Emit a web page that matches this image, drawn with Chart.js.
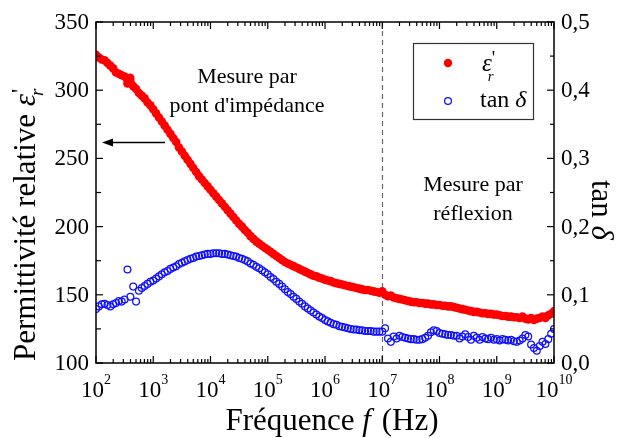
<!DOCTYPE html>
<html>
<head>
<meta charset="utf-8">
<script src="https://cdn.jsdelivr.net/npm/chart.js@4/dist/chart.umd.min.js"></script>
<style>
  html, body { margin: 0; padding: 0; background: #ffffff; }
  canvas { display: block; }
</style>
</head>
<body>
<canvas id="c" width="620" height="438"></canvas>
<script>
// Frequency sweep, log10(f / Hz)
const logFreq = [
  2.00, 2.05, 2.10, 2.15, 2.20, 2.25, 2.30, 2.35, 2.40, 2.45, 2.50, 2.55, 2.60, 2.65, 2.70, 2.75, 2.80, 2.85, 2.90, 2.95,
  3.00, 3.05, 3.10, 3.15, 3.20, 3.25, 3.30, 3.35, 3.40, 3.45, 3.50, 3.55, 3.60, 3.65, 3.70, 3.75, 3.80, 3.85, 3.90, 3.95,
  4.00, 4.05, 4.10, 4.15, 4.20, 4.25, 4.30, 4.35, 4.40, 4.45, 4.50, 4.55, 4.60, 4.65, 4.70, 4.75, 4.80, 4.85, 4.90, 4.95,
  5.00, 5.05, 5.10, 5.15, 5.20, 5.25, 5.30, 5.35, 5.40, 5.45, 5.50, 5.55, 5.60, 5.65, 5.70, 5.75, 5.80, 5.85, 5.90, 5.95,
  6.00, 6.05, 6.10, 6.15, 6.20, 6.25, 6.30, 6.35, 6.40, 6.45, 6.50, 6.55, 6.60, 6.65, 6.70, 6.75, 6.80, 6.85, 6.90, 6.95,
  7.00, 7.05, 7.10, 7.15, 7.20, 7.25, 7.30, 7.35, 7.40, 7.45, 7.50, 7.55, 7.60, 7.65, 7.70, 7.75, 7.80, 7.85, 7.90, 7.95,
  8.00, 8.05, 8.10, 8.15, 8.20, 8.25, 8.30, 8.35, 8.40, 8.45, 8.50, 8.55, 8.60, 8.65, 8.70, 8.75, 8.80, 8.85, 8.90, 8.95,
  9.00, 9.05, 9.10, 9.15, 9.20, 9.25, 9.30, 9.35, 9.40, 9.45, 9.50, 9.55, 9.60, 9.65, 9.70, 9.75, 9.80, 9.85, 9.90, 9.95,
  10.00
];

// Relative permittivity (real part)
const epsReal = [
  326, 324, 322.5, 322, 320, 318, 316, 313, 312, 311, 310, 305, 309, 303, 301, 298, 296, 294, 291, 289,
  286, 283, 280, 277, 274, 271, 268, 265, 262, 258, 255, 252, 249, 246, 243, 240, 237, 234.5, 232, 229.5,
  227, 224.5, 222, 219.5, 217, 214.5, 212, 209.5, 207, 204.5, 202, 200, 197.5, 195.5, 193, 191, 189, 187.5, 186, 184.5,
  183, 181.5, 180, 178.5, 177, 175.5, 174, 173, 172, 171, 170, 169, 168, 167, 166, 165, 164, 163.5, 162.5, 162,
  161, 160.5, 160, 159, 158.5, 158, 157.5, 157, 156.5, 156, 155.5, 155, 154.5, 154, 153.5, 153.5, 153, 152.5, 152, 151.5,
  152.5, 150, 149, 149.5, 148, 147.5, 147, 146.5, 146, 145.5, 145, 144.5, 144.5, 144, 144, 143.5, 143.5, 143, 143, 142.5,
  142.5, 142, 142, 141.5, 141.5, 141, 140.5, 140, 139.5, 139, 138.5, 138, 137.5, 137.5, 137, 136.5, 136.5, 136, 136, 135.5,
  135.5, 135, 134.5, 134.5, 134, 134, 133.5, 133.5, 133, 134, 132.5, 132, 133, 131.5, 132.5, 133, 134, 133, 135, 136,
  138
];

// Loss tangent
const tanDelta = [
  0.079, 0.083, 0.086, 0.087, 0.085, 0.083, 0.086, 0.088, 0.091, 0.090, 0.093, 0.137, 0.097, 0.112, 0.090, 0.106, 0.110, 0.113, 0.116, 0.119,
  0.121, 0.124, 0.127, 0.130, 0.133, 0.135, 0.138, 0.140, 0.142, 0.145, 0.147, 0.149, 0.151, 0.153, 0.154, 0.156, 0.157, 0.158, 0.159, 0.160,
  0.160, 0.161, 0.161, 0.161, 0.160, 0.160, 0.159, 0.158, 0.157, 0.156, 0.154, 0.153, 0.151, 0.149, 0.146, 0.144, 0.141, 0.139, 0.136, 0.133,
  0.130, 0.126, 0.123, 0.119, 0.116, 0.112, 0.108, 0.104, 0.101, 0.097, 0.094, 0.090, 0.087, 0.083, 0.080, 0.077, 0.074, 0.071, 0.068, 0.066,
  0.063, 0.061, 0.059, 0.057, 0.056, 0.054, 0.053, 0.052, 0.051, 0.050, 0.049, 0.049, 0.048, 0.048, 0.047, 0.047, 0.047, 0.046, 0.046, 0.046,
  0.046, 0.051, 0.036, 0.031, 0.039, 0.036, 0.040, 0.038, 0.037, 0.036, 0.035, 0.035, 0.034, 0.034, 0.035, 0.037, 0.040, 0.045, 0.048, 0.047,
  0.044, 0.043, 0.042, 0.041, 0.041, 0.040, 0.040, 0.036, 0.039, 0.042, 0.038, 0.034, 0.040, 0.037, 0.034, 0.038, 0.036, 0.035, 0.037, 0.034,
  0.035, 0.033, 0.035, 0.034, 0.033, 0.034, 0.032, 0.031, 0.033, 0.036, 0.041, 0.039, 0.027, 0.022, 0.018, 0.025, 0.031, 0.028, 0.035, 0.043,
  0.050
];

// Axis ticks
const decadeExps = [2, 3, 4, 5, 6, 7, 8, 9, 10];
const epsTicks = [100, 150, 200, 250, 300, 350];
const tanTicks = [0, 0.1, 0.2, 0.3, 0.4, 0.5];
const boundaryFreq = 1e7;   // impedance bridge / reflection changeover

const SERIF = '"Liberation Serif", "Times New Roman", serif';
const RED = '#ff0000';
const BLUE = '#1010ff';

const toPoints = (vals) => logFreq.map((e, i) => ({ x: Math.pow(10, e), y: vals[i] }));

const decorations = {
  id: 'decorations',
  beforeDatasetsDraw(chart) {
    const { ctx, chartArea: a, scales } = chart;
    const xb = Math.round(scales.x.getPixelForValue(boundaryFreq)) + 0.5;
    ctx.save();
    ctx.strokeStyle = '#666666';
    ctx.lineWidth = 1.2;
    ctx.setLineDash([5, 4]);
    ctx.beginPath();
    ctx.moveTo(xb, a.top);
    ctx.lineTo(xb, a.bottom);
    ctx.stroke();
    ctx.restore();
  },
  afterDraw(chart) {
    const { ctx, chartArea: a, scales } = chart;
    const sx = scales.x, sy = scales.y, sy2 = scales.y2;
    ctx.save();
    ctx.strokeStyle = '#000';
    ctx.fillStyle = '#000';

    // frame
    ctx.lineWidth = 1.5;
    ctx.strokeRect(a.left, a.top, a.right - a.left, a.bottom - a.top);

    // inward ticks
    ctx.lineWidth = 1.2;
    const vTick = (x, len) => {
      ctx.beginPath();
      ctx.moveTo(x, a.bottom); ctx.lineTo(x, a.bottom - len);
      ctx.moveTo(x, a.top); ctx.lineTo(x, a.top + len);
      ctx.stroke();
    };
    decadeExps.forEach((n, i) => {
      const base = Math.pow(10, n);
      vTick(sx.getPixelForValue(base), 7);
      if (i < decadeExps.length - 1) {
        for (let m = 2; m <= 9; m++) vTick(sx.getPixelForValue(m * base), 4);
      }
    });
    const hTick = (scale, v, len, fromLeft) => {
      const y = scale.getPixelForValue(v);
      ctx.beginPath();
      if (fromLeft) { ctx.moveTo(a.left, y); ctx.lineTo(a.left + len, y); }
      else { ctx.moveTo(a.right, y); ctx.lineTo(a.right - len, y); }
      ctx.stroke();
    };
    epsTicks.forEach((v, i) => {
      hTick(sy, v, 7, true);
      if (i < epsTicks.length - 1) hTick(sy, (v + epsTicks[i + 1]) / 2, 5, true);
    });
    tanTicks.forEach((v, i) => {
      hTick(sy2, v, 7, false);
      if (i < tanTicks.length - 1) hTick(sy2, (v + tanTicks[i + 1]) / 2, 4, false);
    });

    // tick labels
    ctx.font = '23px ' + SERIF;
    ctx.textBaseline = 'middle';
    ctx.textAlign = 'right';
    epsTicks.forEach(v => ctx.fillText(String(v), a.left - 7, sy.getPixelForValue(v) + 1));
    ctx.textAlign = 'left';
    tanTicks.forEach(v => ctx.fillText(v.toFixed(1).replace('.', ','), a.right + 7, sy2.getPixelForValue(v) + 1));

    ctx.textBaseline = 'alphabetic';
    decadeExps.forEach(n => {
      const x = sx.getPixelForValue(Math.pow(10, n));
      ctx.font = '23px ' + SERIF;
      const wb = ctx.measureText('10').width;
      ctx.font = '14px ' + SERIF;
      const we = ctx.measureText(String(n)).width;
      const x0 = x - (wb + we) / 2;
      ctx.font = '23px ' + SERIF;
      ctx.fillText('10', x0, 397);
      ctx.font = '14px ' + SERIF;
      ctx.fillText(String(n), x0 + wb, 384);
    });

    // x axis title
    ctx.font = '31px ' + SERIF;
    const p1 = 'Fréquence ', p3 = ' (Hz)';
    const w1 = ctx.measureText(p1).width, w3 = ctx.measureText(p3).width;
    ctx.font = 'italic 31px ' + SERIF;
    const w2 = ctx.measureText('f').width + 3;
    let xs = 332 - (w1 + w2 + w3) / 2;
    ctx.font = '31px ' + SERIF;
    ctx.fillText(p1, xs, 430);
    ctx.font = 'italic 31px ' + SERIF;
    ctx.fillText('f', xs + w1, 430);
    ctx.font = '31px ' + SERIF;
    ctx.fillText(p3, xs + w1 + w2, 430);

    // left axis title
    ctx.save();
    ctx.translate(35, 361);
    ctx.rotate(-Math.PI / 2);
    ctx.font = '31px ' + SERIF;
    const lt = 'Permittivité relative ';
    ctx.fillText(lt, 0, 0);
    let adv = ctx.measureText(lt).width;
    ctx.font = 'italic 31px ' + SERIF;
    ctx.fillText('ε', adv, 0);
    adv += ctx.measureText('ε').width;
    ctx.font = '24px ' + SERIF;
    ctx.fillText("'", adv + 1, -8);
    ctx.font = 'italic 19px ' + SERIF;
    ctx.fillText('r', adv - 2, 8);
    ctx.restore();

    // right axis title
    ctx.save();
    ctx.translate(592, 180);
    ctx.rotate(Math.PI / 2);
    ctx.font = '31px ' + SERIF;
    ctx.fillText('tan ', 0, 0);
    const wt = ctx.measureText('tan ').width;
    ctx.font = 'italic 31px ' + SERIF;
    ctx.fillText('δ', wt, 0);
    ctx.restore();

    // measurement regions
    ctx.font = '22px ' + SERIF;
    ctx.textAlign = 'center';
    ctx.fillText('Mesure par', 247, 83);
    ctx.fillText("pont d'impédance", 247, 112);
    ctx.fillText('Mesure par', 473, 191);
    ctx.fillText('réflexion', 473, 220);

    // arrow towards the left axis
    ctx.lineWidth = 1.5;
    ctx.beginPath();
    ctx.moveTo(165, 142.5);
    ctx.lineTo(110, 142.5);
    ctx.stroke();
    ctx.beginPath();
    ctx.moveTo(102, 142.5);
    ctx.lineTo(113, 138.5);
    ctx.lineTo(113, 146.5);
    ctx.closePath();
    ctx.fill();

    // legend
    ctx.textAlign = 'left';
    ctx.lineWidth = 1.2;
    ctx.strokeStyle = '#333';
    ctx.strokeRect(413.5, 43.5, 120, 76);
    const ds = chart.data.datasets;
    ctx.fillStyle = ds[0].pointBackgroundColor;
    ctx.beginPath(); ctx.arc(448, 63, 4.2, 0, Math.PI * 2); ctx.fill();
    ctx.strokeStyle = ds[1].pointBorderColor;
    ctx.lineWidth = ds[1].pointBorderWidth;
    ctx.beginPath(); ctx.arc(448, 101, 3.4, 0, Math.PI * 2); ctx.stroke();
    ctx.fillStyle = '#000';
    ctx.font = 'italic 25px ' + SERIF;
    ctx.fillText('ε', 482, 71);
    const we2 = ctx.measureText('ε').width;
    ctx.font = '19px ' + SERIF;
    ctx.fillText("'", 482 + we2, 64);
    ctx.font = 'italic 15px ' + SERIF;
    ctx.fillText('r', 482 + we2 - 4, 81);
    ctx.font = '24px ' + SERIF;
    ctx.fillText('tan ', 480, 107);
    const wtan = ctx.measureText('tan ').width;
    ctx.font = 'italic 24px ' + SERIF;
    ctx.fillText('δ', 480 + wtan, 107);

    ctx.restore();
  }
};

new Chart(document.getElementById('c'), {
  type: 'scatter',
  data: {
    datasets: [
      {
        label: "ε'r",
        data: toPoints(epsReal),
        yAxisID: 'y',
        // dense filled markers that merge into a band
        showLine: true,
        borderColor: RED,
        borderWidth: 6,
        borderCapStyle: 'round',
        borderJoinStyle: 'round',
        pointStyle: 'circle',
        pointRadius: 4.3,
        pointBackgroundColor: RED,
        pointBorderColor: RED,
        pointBorderWidth: 0,
        clip: { left: 0, top: 0, right: 0, bottom: 0 }
      },
      {
        label: 'tan δ',
        data: toPoints(tanDelta),
        yAxisID: 'y2',
        showLine: false,
        pointStyle: 'circle',
        pointRadius: 3.4,
        pointBackgroundColor: 'rgba(255,255,255,0)',
        pointBorderColor: BLUE,
        pointBorderWidth: 1.25,
        clip: { left: 0, top: 0, right: 0, bottom: 0 }
      }
    ]
  },
  options: {
    responsive: false,
    animation: false,
    devicePixelRatio: 1,
    layout: { padding: { left: 96, right: 66, top: 22, bottom: 75 } },
    plugins: { legend: { display: false }, tooltip: { enabled: false } },
    scales: {
      x: { type: 'logarithmic', min: 1e2, max: 1e10, display: false },
      y: { type: 'linear', position: 'left', min: 100, max: 350, display: false },
      y2: { type: 'linear', position: 'right', min: 0, max: 0.5, display: false }
    }
  },
  plugins: [decorations]
});
</script>
</body>
</html>
